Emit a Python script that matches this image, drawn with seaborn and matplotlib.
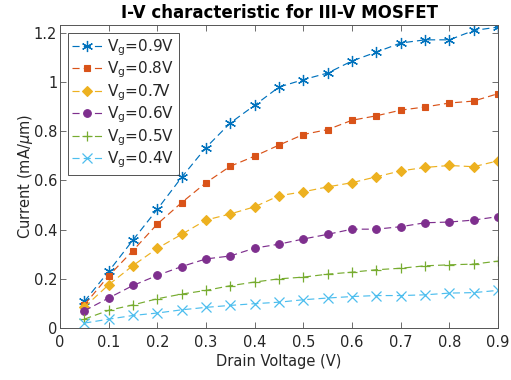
import numpy as np
import pandas as pd
import seaborn as sns
import matplotlib
matplotlib.use("Agg")
import matplotlib.pyplot as plt
from matplotlib.ticker import FuncFormatter

vd = [0.05, 0.10, 0.15, 0.20, 0.25, 0.30, 0.35, 0.40, 0.45,
      0.50, 0.55, 0.60, 0.65, 0.70, 0.75, 0.80, 0.85, 0.90]

i_09 = [0.108, 0.230, 0.358, 0.483, 0.613, 0.734, 0.834, 0.906, 0.980,
        1.010, 1.037, 1.086, 1.122, 1.159, 1.172, 1.172, 1.210, 1.224]
i_08 = [0.094, 0.212, 0.315, 0.423, 0.510, 0.591, 0.658, 0.699, 0.744,
        0.787, 0.807, 0.845, 0.863, 0.886, 0.899, 0.915, 0.923, 0.953]
i_07 = [0.085, 0.176, 0.254, 0.324, 0.381, 0.439, 0.464, 0.493, 0.538,
        0.554, 0.574, 0.591, 0.615, 0.639, 0.653, 0.661, 0.656, 0.680]
i_06 = [0.070, 0.122, 0.173, 0.214, 0.250, 0.281, 0.293, 0.325, 0.341,
        0.362, 0.381, 0.402, 0.402, 0.412, 0.428, 0.431, 0.439, 0.453]
i_05 = [0.036, 0.072, 0.094, 0.119, 0.138, 0.153, 0.172, 0.187, 0.200,
        0.207, 0.219, 0.227, 0.237, 0.243, 0.253, 0.257, 0.260, 0.272]
i_04 = [0.020, 0.036, 0.051, 0.061, 0.074, 0.084, 0.092, 0.099, 0.105,
        0.115, 0.122, 0.128, 0.132, 0.132, 0.135, 0.142, 0.144, 0.153]

labels = ["$V_g$=0.9V", "$V_g$=0.8V", "$V_g$=0.7V",
          "$V_g$=0.6V", "$V_g$=0.5V", "$V_g$=0.4V"]
series = [i_09, i_08, i_07, i_06, i_05, i_04]
colors = ["#0072BD", "#D95319", "#EDB120", "#7E2F8E", "#77AC30", "#4DBEEE"]
markers = [(6, 2, 0), "s", "D", "o", "+", "x"]
msizes = [8, 5, 5, 5.5, 7.5, 6.5]

xticks = [0, 0.1, 0.2, 0.3, 0.4, 0.5, 0.6, 0.7, 0.8, 0.9]
yticks = [0, 0.2, 0.4, 0.6, 0.8, 1.0, 1.2]

sns.set_theme(style="white")
plt.rcParams['font.family'] = ['DejaVu Sans']
plt.rcParams['mathtext.default'] = 'regular'

fig = plt.figure(figsize=(5.11, 3.80), dpi=100)
ax = fig.add_axes([0.1174, 0.1368, 0.8572, 0.7972])

for lab, ys, c, m, ms in zip(labels, series, colors, markers, msizes):
    df = pd.DataFrame({"x": vd, "y": ys})
    if m in ["s", "D", "o"]:
        kw = dict(markerfacecolor=c, markeredgecolor=c, markeredgewidth=0.8)
    else:
        kw = dict(markeredgecolor=c, markeredgewidth=0.9)
    sns.lineplot(data=df, x="x", y="y", ax=ax, color=c, marker=m,
                 markersize=ms, linestyle=(0, (6, 3.5)), linewidth=0.85,
                 label=lab, **kw)

ax.set_xlim(0, 0.9)
ax.set_ylim(0, 1.232)
ax.set_xticks(xticks)
ax.set_yticks(yticks)
fmt = FuncFormatter(lambda v, p: "%g" % round(v, 2))
ax.xaxis.set_major_formatter(fmt)
ax.yaxis.set_major_formatter(fmt)
ax.tick_params(direction="in", length=4, width=0.6, colors="#555555",
               labelsize=10.5, top=True, right=True, bottom=True, left=True,
               labelcolor="#262626")
ax.tick_params(axis="x", pad=5)
ax.tick_params(axis="y", pad=2)
for s in ax.spines.values():
    s.set_visible(True)
    s.set_color("#555555")
    s.set_linewidth(0.7)

ax.set_xlabel("Drain Voltage (V)", fontsize=10.5, color="#262626", labelpad=3)
ax.set_ylabel("Current (mA/$\\mathit{\\mu}$m)", fontsize=10.5, color="#262626", labelpad=-1)
ax.set_title("I-V characteristic for III-V MOSFET", fontsize=12, fontweight="bold",
             color="black", pad=5)

leg = ax.legend(loc="upper left", fontsize=11, frameon=True, fancybox=False,
                edgecolor="#262626", handlelength=2.0, handletextpad=0.3,
                labelspacing=0.12, borderpad=0.3, borderaxespad=0.5)
leg.get_frame().set_linewidth(0.7)

fig.savefig("out.png", dpi=100)
